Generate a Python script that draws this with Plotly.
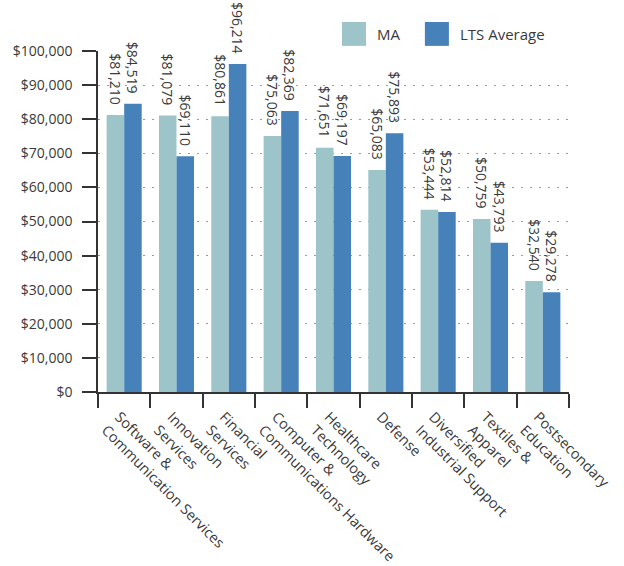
import plotly.graph_objects as go

categories = [
    "Software &<br>Communication Services",
    "Innovation<br>Services",
    "Financial<br>Services",
    "Computer &<br>Communications Hardware",
    "Healthcare<br>Technology",
    "Defense",
    "Diversified<br>Industrial Support",
    "Textiles &<br>Apparel",
    "Postsecondary<br>Education",
]
ma_values = [81210, 81079, 80861, 75063, 71651, 65083, 53444, 50759, 32540]
lts_values = [84519, 69110, 96214, 82369, 69197, 75893, 52814, 43793, 29278]
series_names = ["MA", "LTS Average"]
y_ticks = [0, 10000, 20000, 30000, 40000, 50000, 60000, 70000, 80000, 90000, 100000]

MA_COLOR = "#9dc4c8"
LTS_COLOR = "#4682b9"
TEXT = "#3a3a3a"
FONT = "Open Sans"

fig = go.Figure()
for name, vals, col in [(series_names[0], ma_values, MA_COLOR), (series_names[1], lts_values, LTS_COLOR)]:
    fig.add_trace(go.Bar(
        x=categories, y=vals, name=name, marker=dict(color=col, line=dict(width=0)),
        texttemplate="$%{y:,}  ", textposition="outside", textangle=90,
        constraintext="none",
        textfont=dict(family=FONT, size=14, color=TEXT),
        cliponaxis=False, showlegend=False, hoverinfo="skip",
    ))

fig.update_layout(
    width=624, height=566,
    margin=dict(l=98, r=55, t=51, b=174, autoexpand=False),
    paper_bgcolor="white", plot_bgcolor="white",
    barmode="group", bargap=0.33, bargroupgap=0,
    font=dict(family=FONT, size=14, color=TEXT),
)
fig.update_xaxes(
    type="category", automargin=False, showline=True, linecolor="#333333", linewidth=1.5,
    ticks="outside", tickson="boundaries", ticklen=14, tickcolor="#333333", tickwidth=1.5,
    tickangle=45, ticklabelstandoff=9, ticklabelshift=-5,
    showgrid=False, tickfont=dict(family=FONT, size=14.5, color=TEXT),
)
fig.update_yaxes(
    automargin=False, range=[0, 100000], tickvals=y_ticks, tickformat="$,",
    showline=True, linecolor="#333333", linewidth=1.5,
    ticks="outside", ticklen=14, tickcolor="#333333", tickwidth=1.5,
    ticklabelstandoff=7,
    showgrid=True, gridcolor="#9a9a9a", gridwidth=1, griddash="2px,7px",
    zeroline=False, tickfont=dict(family=FONT, size=14, color=TEXT),
)

# legend drawn with shapes + annotations (large square swatches)
legend_items = [(series_names[0], MA_COLOR, 0.518), (series_names[1], LTS_COLOR, 0.694)]
for name, col, x0 in legend_items:
    fig.add_shape(type="rect", xref="paper", yref="paper", x0=x0, x1=x0 + 0.051,
                  y0=1.015, y1=1.085, fillcolor=col, line=dict(width=0))
    fig.add_annotation(xref="paper", yref="paper", x=x0 + 0.07, y=1.05, text=name,
                       showarrow=False, xanchor="left", yanchor="middle",
                       font=dict(family=FONT, size=15, color=TEXT))

fig.write_html("out.html", config={"displayModeBar": False},
               post_script="document.body.style.margin='0';")
